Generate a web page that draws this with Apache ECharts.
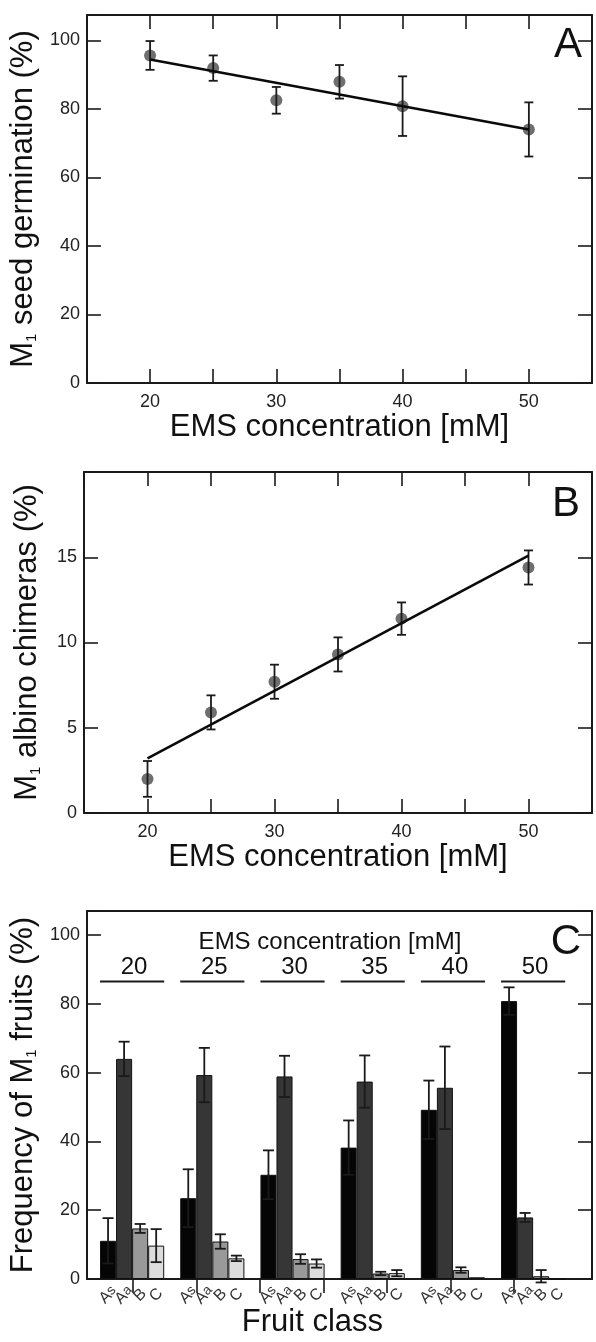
<!DOCTYPE html>
<html>
<head>
<meta charset="utf-8">
<script src="https://cdn.jsdelivr.net/npm/echarts@6/dist/echarts.min.js"></script>
<style>
  html, body { margin: 0; padding: 0; background: #fff; }
  #chart { width: 596px; height: 1342px; }
</style>
</head>
<body>
<div id="chart"></div>
<script>
// ---- data ----
const concentrations = [20, 25, 30, 35, 40, 50];

// panel A: M1 seed germination (%)
const germinationMean = [95.6, 91.9, 82.5, 87.9, 80.8, 74.0];
const germinationErr = [4.2, 3.7, 3.9, 4.9, 8.7, 7.9];
const fitX = [20, 50];
const germinationFit = [94.4, 74.0];

// panel B: M1 albino chimeras (%)
const albinoMean = [2.0, 5.9, 7.7, 9.3, 11.4, 14.4];
const albinoErr = [1.05, 1.0, 1.0, 1.0, 0.95, 1.0];
const albinoFit = [3.2, 15.1];

// panel C: frequency of M1 fruits (%) per fruit class
const fruitClasses = ['As', 'Aa', 'B', 'C'];
const asMean = [11.1, 23.5, 30.3, 38.2, 49.2, 80.8];
const asErr = [6.6, 8.4, 7.1, 7.9, 8.5, 4.0];
const aaMean = [64.0, 59.3, 58.9, 57.4, 55.6, 17.9];
const aaErr = [5.0, 7.9, 6.0, 7.6, 12.0, 1.3];
const bMean = [14.7, 10.9, 5.8, 1.6, 2.6, 0.8];
const bErr = [1.3, 2.1, 1.4, 0.5, 0.8, 1.8];
const cMean = [9.7, 6.0, 4.5, 1.7, 0.5, 0];
const cErr = [4.8, 0.8, 1.2, 0.9, 0, 0];

const yTicksA = [0, 20, 40, 60, 80, 100];
const yTicksB = [0, 5, 10, 15];
const xLabels = [20, 30, 40, 50];

// ---- styles ----
const FONT = 'Liberation Sans, Arial, Helvetica, sans-serif';
const INK = '#1a1a1a';
const classColors = ['#050505', '#363636', '#999999', '#dcdcdc'];
const LINE = { show: true, onZero: false, lineStyle: { color: INK, width: 2 } };
const TICK = { show: true, inside: true, length: 14, lineStyle: { color: INK, width: 1.6 } };
const NO = { show: false };
const tickLabel = { fontSize: 18, color: '#222', fontFamily: FONT };
const titleStyle = { fontSize: 31, color: '#111', fontFamily: FONT };

// ---- panel C slots: gap + 4 bars per concentration ----
const classMeans = [asMean, aaMean, bMean, cMean];
const classErrs = [asErr, aaErr, bErr, cErr];
const slotCats = [];
const barData = [];
const errC = [];
const groupSpans = [];
concentrations.forEach((c, g) => {
  slotCats.push(slotCats.length + '|');
  barData.push(null);
  const start = slotCats.length;
  fruitClasses.forEach((cl, k) => {
    const idx = slotCats.length;
    slotCats.push(idx + '|' + cl);
    barData.push({ value: classMeans[k][g], itemStyle: { color: classColors[k] } });
    if (classErrs[k][g] > 0) errC.push([idx, classMeans[k][g], classErrs[k][g]]);
  });
  groupSpans.push([start, slotCats.length - 1, c]);
});
slotCats.push(slotCats.length + '|');

function errorBars(capHalf) {
  return function (params, api) {
    const x = api.value(0), y = api.value(1), e = api.value(2);
    const top = api.coord([x, y + e]);
    const bot = api.coord([x, y - e]);
    const st = { stroke: INK, lineWidth: 1.8 };
    return {
      type: 'group',
      children: [
        { type: 'line', shape: { x1: top[0], y1: top[1], x2: bot[0], y2: bot[1] }, style: st },
        { type: 'line', shape: { x1: top[0] - capHalf, y1: top[1], x2: top[0] + capHalf, y2: top[1] }, style: st },
        { type: 'line', shape: { x1: bot[0] - capHalf, y1: bot[1], x2: bot[0] + capHalf, y2: bot[1] }, style: st }
      ]
    };
  };
}

function groupHeader(params, api) {
  const bw = api.size([1, 0])[0];
  const s = api.coord([api.value(0), 86.5]);
  const e = api.coord([api.value(1), 86.5]);
  const x1 = s[0] - bw / 2, x2 = e[0] + bw / 2;
  return {
    type: 'group',
    children: [
      { type: 'line', shape: { x1: x1, y1: s[1], x2: x2, y2: s[1] }, style: { stroke: INK, lineWidth: 2 } },
      { type: 'text', x: (x1 + x2) / 2 + 2, y: s[1] - 2,
        style: { text: String(api.value(2)), fontSize: 24, fill: '#111', fontFamily: FONT, align: 'center', verticalAlign: 'bottom' } }
    ]
  };
}

const subRich = {
  t: { fontSize: 31, color: '#111', fontFamily: FONT },
  s: { fontSize: 15, color: '#111', fontFamily: FONT, verticalAlign: 'bottom' }
};
const yName = (pre, post) => ({
  name: '{t|' + pre + 'M}{s|1}{t|' + post + '}',
  nameLocation: 'middle',
  nameGap: 41,
  nameTextStyle: { rich: subRich }
});

const chart = echarts.init(document.getElementById('chart'), null, { renderer: 'canvas' });

chart.setOption({
  animation: false,
  backgroundColor: '#fff',
  grid: [
    { left: 84, right: 4, top: 15, height: 368 },
    { left: 84, right: 4, top: 472, height: 341 },
    { left: 84, right: 4, top: 911, height: 368 },
    { left: 84, width: 31 * 16.04, top: 911, height: 368 },
    { left: 133, width: 381, top: 911, height: 368 }
  ],
  xAxis: [
    { gridIndex: 0, type: 'value', min: 15, max: 55, interval: 5, axisLine: LINE, axisTick: TICK, splitLine: NO,
      axisLabel: Object.assign({ margin: 10, formatter: v => xLabels.includes(v) ? String(v) : '' }, tickLabel),
      name: 'EMS concentration [mM]', nameLocation: 'middle', nameGap: 28, nameTextStyle: titleStyle },
    { gridIndex: 0, type: 'value', position: 'top', min: 15, max: 55, interval: 5, axisLine: LINE, axisTick: TICK, splitLine: NO, axisLabel: NO },
    { gridIndex: 1, type: 'value', min: 15, max: 55, interval: 5, axisLine: LINE, axisTick: TICK, splitLine: NO,
      axisLabel: Object.assign({ margin: 10, formatter: v => xLabels.includes(v) ? String(v) : '' }, tickLabel),
      name: 'EMS concentration [mM]', nameLocation: 'middle', nameGap: 28, nameTextStyle: titleStyle },
    { gridIndex: 1, type: 'value', position: 'top', min: 15, max: 55, interval: 5, axisLine: LINE, axisTick: TICK, splitLine: NO, axisLabel: NO },
    { gridIndex: 2, type: 'value', min: 0, max: 1, axisLine: LINE, axisTick: NO, splitLine: NO, axisLabel: NO,
      name: 'Fruit class', nameLocation: 'middle', nameGap: 28,
      nameTextStyle: Object.assign({ padding: [0, 54, 0, 0] }, titleStyle) },
    { gridIndex: 2, type: 'value', position: 'top', min: 0, max: 1, axisLine: LINE, axisTick: NO, splitLine: NO, axisLabel: NO },
    { gridIndex: 3, type: 'category', data: slotCats, boundaryGap: true, axisLine: NO, axisTick: NO, splitLine: NO,
      axisLabel: {
        interval: 0, rotate: 45, margin: 16, align: 'center', verticalAlign: 'middle',
        color: '#333', fontFamily: FONT, fontSize: 16,
        formatter: v => {
          const l = v.split('|')[1];
          return l.length === 2 ? '{n|' + l[0] + '}{s|' + l[1] + '}' : (l ? '{n|' + l + '}' : '');
        },
        rich: {
          n: { fontSize: 16, color: '#333', fontFamily: FONT },
          s: { fontSize: 14, color: '#333', fontFamily: FONT, verticalAlign: 'top' }
        }
      } },
    { gridIndex: 4, type: 'value', position: 'top', min: 0, max: 6, interval: 1, axisLine: NO, axisTick: TICK, splitLine: NO, axisLabel: NO }
  ],
  yAxis: [
    Object.assign({ gridIndex: 0, type: 'value', min: 0, max: 107.4, interval: 20, axisLine: LINE, axisTick: TICK, splitLine: NO,
      axisLabel: Object.assign({ margin: 7, formatter: v => yTicksA.includes(v) ? String(v) : '' }, tickLabel) },
      yName('', ' seed germination (%)')),
    { gridIndex: 0, type: 'value', position: 'right', min: 0, max: 107.4, interval: 20, axisLine: LINE, axisTick: TICK, splitLine: NO, axisLabel: NO },
    Object.assign({ gridIndex: 1, type: 'value', min: 0, max: 20, interval: 5, axisLine: LINE, axisTick: TICK, splitLine: NO,
      axisLabel: Object.assign({ margin: 7, formatter: v => yTicksB.includes(v) ? String(v) : '' }, tickLabel) },
      yName('', ' albino chimeras (%)')),
    { gridIndex: 1, type: 'value', position: 'right', min: 0, max: 20, interval: 5, axisLine: LINE, axisTick: TICK, splitLine: NO, axisLabel: NO },
    Object.assign({ gridIndex: 2, type: 'value', min: 0, max: 107, interval: 20, axisLine: LINE, axisTick: TICK, splitLine: NO,
      axisLabel: Object.assign({ margin: 7, formatter: v => yTicksA.includes(v) ? String(v) : '' }, tickLabel) },
      yName('Frequency of ', ' fruits (%)')),
    { gridIndex: 2, type: 'value', position: 'right', min: 0, max: 107, interval: 20, axisLine: LINE, axisTick: TICK, splitLine: NO, axisLabel: NO },
    { gridIndex: 3, type: 'value', min: 0, max: 107, show: false },
    { gridIndex: 4, type: 'value', min: 0, max: 1, show: false }
  ],
  series: [
    { type: 'scatter', xAxisIndex: 0, yAxisIndex: 0, symbolSize: 12, itemStyle: { color: '#6f6f6f', opacity: 1 }, z: 2,
      data: concentrations.map((c, i) => [c, germinationMean[i]]) },
    { type: 'custom', xAxisIndex: 0, yAxisIndex: 0, renderItem: errorBars(4.5), z: 3,
      data: concentrations.map((c, i) => [c, germinationMean[i], germinationErr[i]]) },
    { type: 'line', xAxisIndex: 0, yAxisIndex: 0, symbol: 'none', lineStyle: { color: '#0a0a0a', width: 2.6 }, z: 4,
      data: fitX.map((x, i) => [x, germinationFit[i]]) },

    { type: 'scatter', xAxisIndex: 2, yAxisIndex: 2, symbolSize: 12, itemStyle: { color: '#6f6f6f', opacity: 1 }, z: 2,
      data: concentrations.map((c, i) => [c, albinoMean[i]]) },
    { type: 'custom', xAxisIndex: 2, yAxisIndex: 2, renderItem: errorBars(4.5), z: 3,
      data: concentrations.map((c, i) => [c, albinoMean[i], albinoErr[i]]) },
    { type: 'line', xAxisIndex: 2, yAxisIndex: 2, symbol: 'none', lineStyle: { color: '#0a0a0a', width: 2.6 }, z: 4,
      data: fitX.map((x, i) => [x, albinoFit[i]]) },

    { type: 'bar', xAxisIndex: 6, yAxisIndex: 6, barCategoryGap: '0%', z: 2,
      itemStyle: { borderColor: '#111', borderWidth: 1 }, data: barData },
    { type: 'custom', xAxisIndex: 6, yAxisIndex: 6, renderItem: errorBars(5.5), z: 3, data: errC },
    { type: 'custom', xAxisIndex: 6, yAxisIndex: 6, renderItem: groupHeader, z: 3, data: groupSpans }
  ],
  graphic: [
    { type: 'text', x: 568, y: 45, style: { text: 'A', fontSize: 42, fill: '#111', fontFamily: FONT, align: 'center', verticalAlign: 'middle' } },
    { type: 'text', x: 566, y: 504, style: { text: 'B', fontSize: 42, fill: '#111', fontFamily: FONT, align: 'center', verticalAlign: 'middle' } },
    { type: 'text', x: 566, y: 942, style: { text: 'C', fontSize: 42, fill: '#111', fontFamily: FONT, align: 'center', verticalAlign: 'middle' } },
    { type: 'text', x: 330, y: 942, style: { text: 'EMS concentration [mM]', fontSize: 24, fill: '#111', fontFamily: FONT, align: 'center', verticalAlign: 'middle' } }
  ]
});
</script>
</body>
</html>
